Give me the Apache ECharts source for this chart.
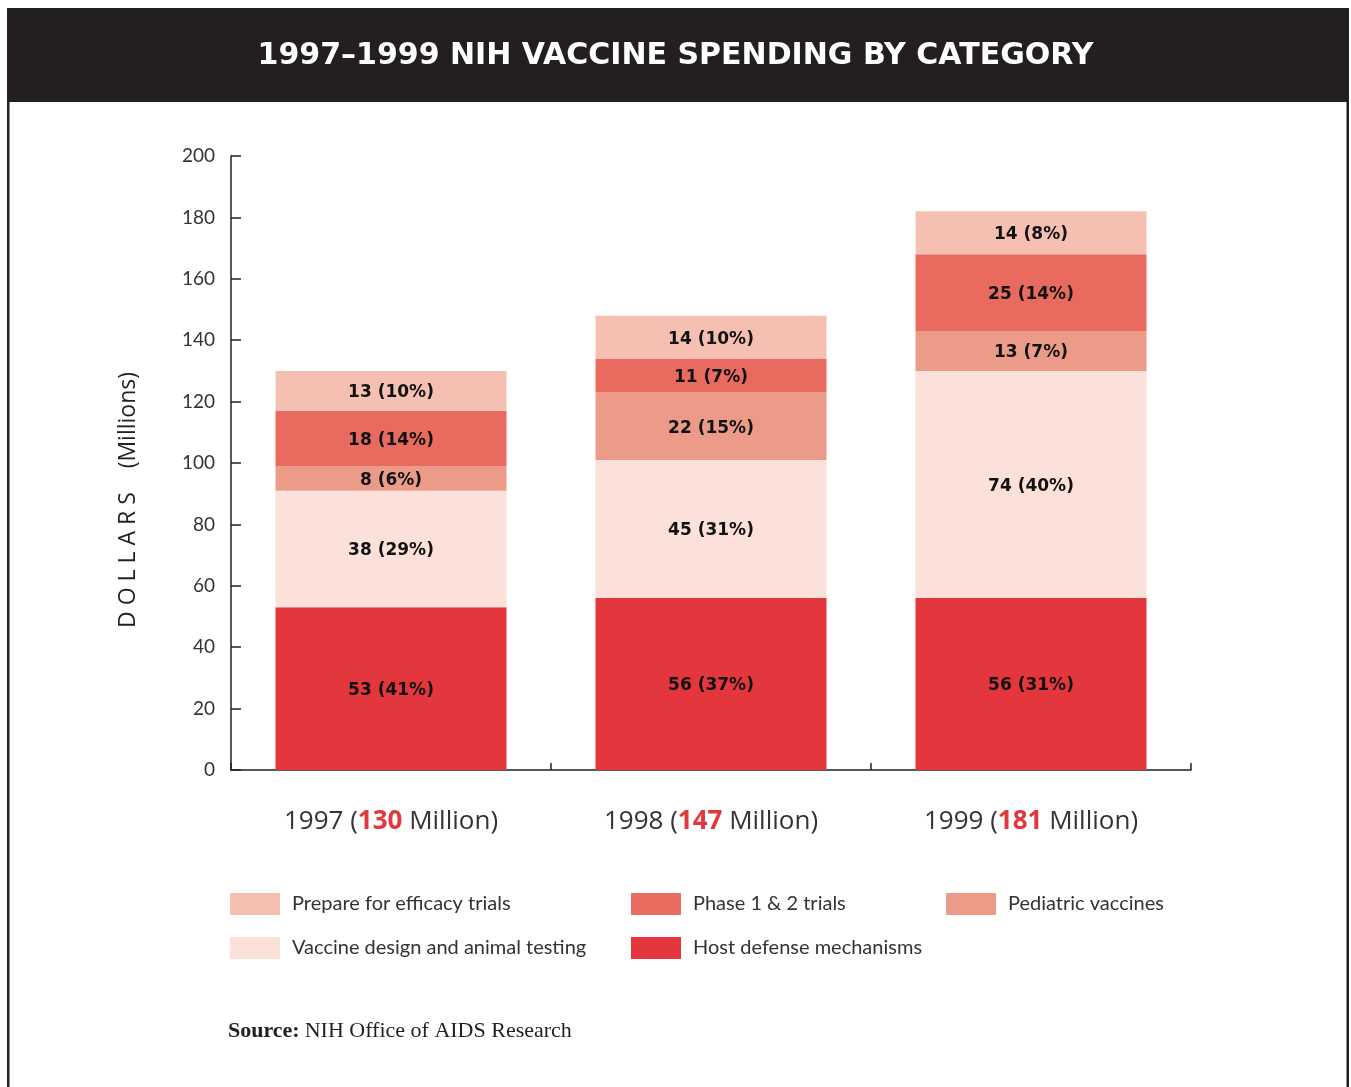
<!DOCTYPE html>
<html>
<head>
    <meta charset="utf-8">
    <title>NIH Vaccine Spending</title>
    <script src="https://cdn.jsdelivr.net/npm/echarts@6/dist/echarts.min.js"></script>
    <style>
        html, body { margin: 0; padding: 0; background: #fff; }
    </style>
</head>
<body>
<div id="main" style="width: 1351px;height:1087px;"></div>
<script type="text/javascript">
    // data
    var years = ['1997', '1998', '1999'];
    var totals = [130, 147, 181];

    var host = [53, 56, 56];
    var hostPct = [41, 37, 31];
    var design = [38, 45, 74];
    var designPct = [29, 31, 40];
    var pediatric = [8, 22, 13];
    var pediatricPct = [6, 15, 7];
    var phase = [18, 11, 25];
    var phasePct = [14, 7, 14];
    var prepare = [13, 14, 14];
    var preparePct = [10, 10, 8];

    var yTicks = [0, 20, 40, 60, 80, 100, 120, 140, 160, 180, 200];

    var dark = '#231f20';
    var font = 'Lato, "Open Sans", sans-serif';
    var openSans = '"Open Sans", Lato, sans-serif';

    var myChart = echarts.init(document.getElementById('main'));

    function seg(name, values, pct, color) {
        return {
            name: name,
            type: 'bar',
            stack: 'total',
            barWidth: 231,
            data: values,
            itemStyle: { color: color },
            label: {
                show: true,
                position: 'inside',
                offset: [0, 2],
                color: '#111',
                fontFamily: '"DejaVu Sans", sans-serif',
                fontWeight: 'bold',
                fontSize: 17,
                formatter: function (p) {
                    return p.value + ' (' + pct[p.dataIndex] + '%)';
                }
            }
        };
    }

    function legendAt(name, left, top) {
        return {
            data: [name],
            left: left,
            top: top,
            padding: 0,
            icon: 'rect',
            itemWidth: 50,
            itemHeight: 22,
            selectedMode: false,
            textStyle: {
                fontFamily: font,
                fontSize: 20,
                color: '#333',
                padding: [0, 0, 0, 7]
            }
        };
    }

    myChart.setOption({
        animation: false,
        title: [{
            text: '1997\u20131999 NIH VACCINE SPENDING BY CATEGORY',
            left: 'center',
            top: 36,
            textStyle: {
                color: '#fff',
                fontFamily: '"DejaVu Sans", sans-serif',
                fontWeight: 'bold',
                fontSize: 30
            }
        }, {
            text: '{b|Source:} {r|NIH Office of AIDS Research}',
            left: 223,
            top: 1015,
            textStyle: {
                rich: {
                    b: { fontFamily: '"Liberation Serif", serif', fontWeight: 'bold', fontSize: 22, color: dark },
                    r: { fontFamily: '"Liberation Serif", serif', fontWeight: 'normal', fontSize: 22, color: dark }
                }
            }
        }],
        graphic: [{
            type: 'rect',
            z: -1,
            shape: { x: 8, y: 8, width: 1340, height: 94 },
            style: { fill: dark }
        }, {
            type: 'rect',
            z: -1,
            shape: { x: 7, y: 8, width: 2.5, height: 1079 },
            style: { fill: dark }
        }, {
            type: 'rect',
            z: -1,
            shape: { x: 1346.5, y: 8, width: 2.5, height: 1079 },
            style: { fill: dark }
        }, {
            type: 'text',
            x: 128,
            y: 500,
            rotation: Math.PI / 2,
            style: {
                text: 'D O L L A R S    (Millions)',
                fontFamily: openSans,
                fontSize: 23,
                fill: dark,
                align: 'center',
                verticalAlign: 'middle'
            }
        }],
        legend: [
            legendAt('Prepare for efficacy trials', 230, 893),
            legendAt('Phase 1 & 2 trials', 631, 893),
            legendAt('Pediatric vaccines', 946, 893),
            legendAt('Vaccine design and animal testing', 230, 937),
            legendAt('Host defense mechanisms', 631, 937)
        ],
        grid: {
            left: 231,
            top: 156,
            width: 960,
            height: 614
        },
        xAxis: {
            type: 'category',
            data: years,
            axisLine: { lineStyle: { color: dark, width: 1.5 } },
            axisTick: { show: true, inside: true, length: 7, lineStyle: { color: dark, width: 1.5 } },
            axisLabel: {
                margin: 39,
                formatter: function (v, i) {
                    return '{a|' + v + ' (}{b|' + totals[i] + '}{a| Million)}';
                },
                rich: {
                    a: { fontFamily: openSans, fontSize: 26, color: '#333' },
                    b: { fontFamily: openSans, fontSize: 26, color: '#e3363d', fontWeight: 'bold' }
                }
            }
        },
        yAxis: {
            type: 'value',
            min: yTicks[0],
            max: yTicks[yTicks.length - 1],
            interval: 20,
            splitLine: { show: false },
            axisLine: { show: true, lineStyle: { color: dark, width: 1.5 } },
            axisTick: { show: true, inside: true, length: 10, lineStyle: { color: dark, width: 1.5 } },
            axisLabel: {
                margin: 16,
                fontFamily: font,
                fontSize: 19,
                color: '#333'
            }
        },
        series: [
            seg('Host defense mechanisms', host, hostPct, '#e3363d'),
            seg('Vaccine design and animal testing', design, designPct, '#fce1da'),
            seg('Pediatric vaccines', pediatric, pediatricPct, '#ec9b88'),
            seg('Phase 1 & 2 trials', phase, phasePct, '#e96b60'),
            seg('Prepare for efficacy trials', prepare, preparePct, '#f5c0b1')
        ]
    });
</script>
</body>
</html>
